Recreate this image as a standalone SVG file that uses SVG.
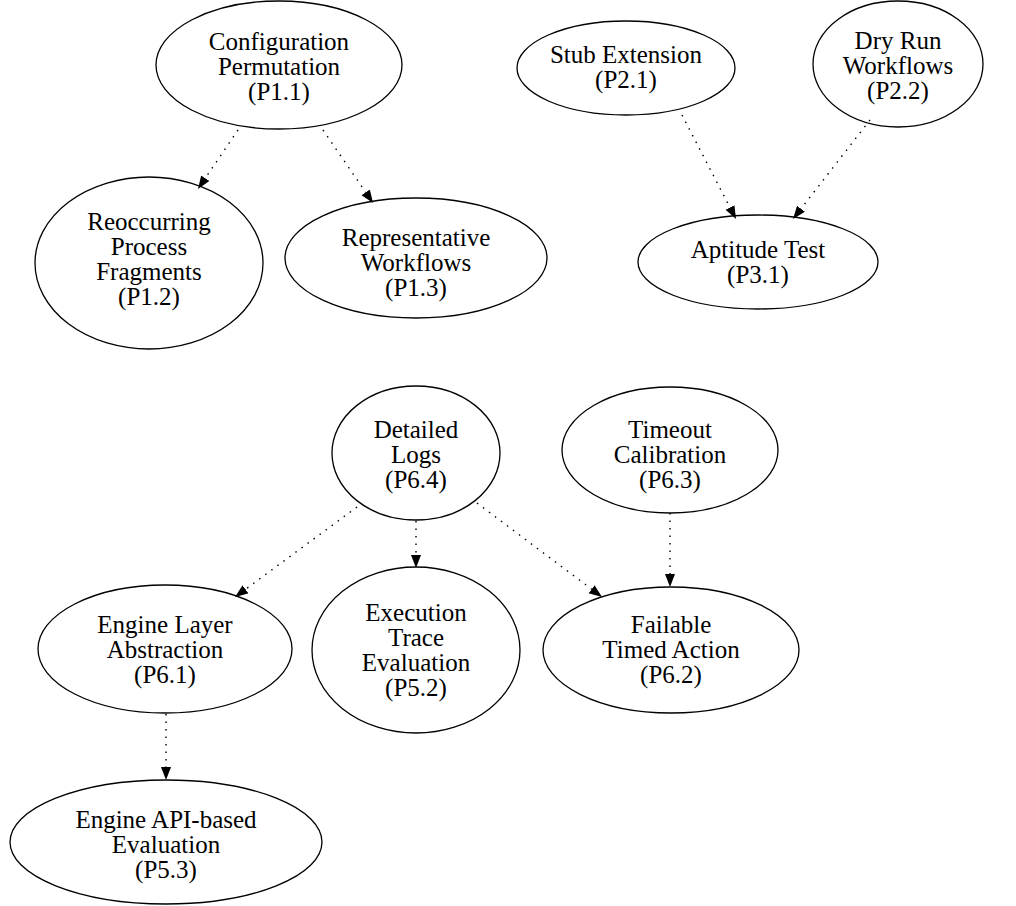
<svg xmlns="http://www.w3.org/2000/svg" width="1016" height="906" viewBox="0 0 1016 906">
  <style>
    .node ellipse { fill: none; stroke: #000; stroke-width: 1.3; }
    .node text { font-family: "Liberation Serif", "Times New Roman", serif; font-size: 25px; fill: #000; text-anchor: middle; }
    .edge { fill: none; stroke: #000; stroke-width: 1.4; stroke-dasharray: 1.5 6; marker-end: url(#arrow); }
  </style>
  <defs>
    <marker id="arrow" markerUnits="userSpaceOnUse" markerWidth="14" markerHeight="11" refX="0" refY="5" orient="auto">
      <path d="M0,0 L13,5 L0,10 Z" fill="#000"/>
    </marker>
  </defs>
  <rect width="1016" height="906" fill="#fff"/>

  <g id="connectors">
    <path class="edge" d="M238,130 L205.3,178.2"/>
    <path class="edge" d="M323,130 L365.7,192.3"/>
    <path class="edge" d="M682,115 L730,207.5"/>
    <path class="edge" d="M870,120 L801,208.7"/>
    <path class="edge" d="M357,507 L245.5,589.3"/>
    <path class="edge" d="M416,521 L416,555"/>
    <path class="edge" d="M477,503 L591.6,589.2"/>
    <path class="edge" d="M670,513 L670,574"/>
    <path class="edge" d="M166,714 L166,767"/>
  </g>

  <g id="p1_1" class="node">
    <ellipse cx="279" cy="65" rx="123" ry="64"/>
    <text x="279" y="50">Configuration</text>
    <text x="279" y="75">Permutation</text>
    <text x="279" y="100">(P1.1)</text>
  </g>
  <g id="p1_2" class="node">
    <ellipse cx="149" cy="263" rx="114" ry="86"/>
    <text x="149" y="230">Reoccurring</text>
    <text x="149" y="255">Process</text>
    <text x="149" y="280">Fragments</text>
    <text x="149" y="305">(P1.2)</text>
  </g>
  <g id="p1_3" class="node">
    <ellipse cx="416" cy="258" rx="131" ry="60"/>
    <text x="416" y="246">Representative</text>
    <text x="416" y="271">Workflows</text>
    <text x="416" y="296">(P1.3)</text>
  </g>
  <g id="p2_1" class="node">
    <ellipse cx="626" cy="68" rx="109" ry="47"/>
    <text x="626" y="63">Stub Extension</text>
    <text x="626" y="88">(P2.1)</text>
  </g>
  <g id="p2_2" class="node">
    <ellipse cx="898" cy="64" rx="85" ry="63"/>
    <text x="898" y="49">Dry Run</text>
    <text x="898" y="74">Workflows</text>
    <text x="898" y="99">(P2.2)</text>
  </g>
  <g id="p3_1" class="node">
    <ellipse cx="758" cy="262" rx="120" ry="47"/>
    <text x="758" y="258">Aptitude Test</text>
    <text x="758" y="283">(P3.1)</text>
  </g>
  <g id="p6_4" class="node">
    <ellipse cx="416" cy="453" rx="84" ry="67"/>
    <text x="416" y="438">Detailed</text>
    <text x="416" y="463">Logs</text>
    <text x="416" y="488">(P6.4)</text>
  </g>
  <g id="p6_3" class="node">
    <ellipse cx="670" cy="450" rx="108" ry="63"/>
    <text x="670" y="438">Timeout</text>
    <text x="670" y="463">Calibration</text>
    <text x="670" y="488">(P6.3)</text>
  </g>
  <g id="p6_1" class="node">
    <ellipse cx="165" cy="649" rx="127" ry="64"/>
    <text x="165" y="633">Engine Layer</text>
    <text x="165" y="658">Abstraction</text>
    <text x="165" y="683">(P6.1)</text>
  </g>
  <g id="p5_2" class="node">
    <ellipse cx="416" cy="650" rx="104" ry="83"/>
    <text x="416" y="621">Execution</text>
    <text x="416" y="646">Trace</text>
    <text x="416" y="671">Evaluation</text>
    <text x="416" y="696">(P5.2)</text>
  </g>
  <g id="p6_2" class="node">
    <ellipse cx="671" cy="650" rx="128" ry="63"/>
    <text x="671" y="633">Failable</text>
    <text x="671" y="658">Timed Action</text>
    <text x="671" y="683">(P6.2)</text>
  </g>
  <g id="p5_3" class="node">
    <ellipse cx="166" cy="842" rx="156" ry="62"/>
    <text x="166" y="828">Engine API-based</text>
    <text x="166" y="853">Evaluation</text>
    <text x="166" y="878">(P5.3)</text>
  </g>
</svg>
